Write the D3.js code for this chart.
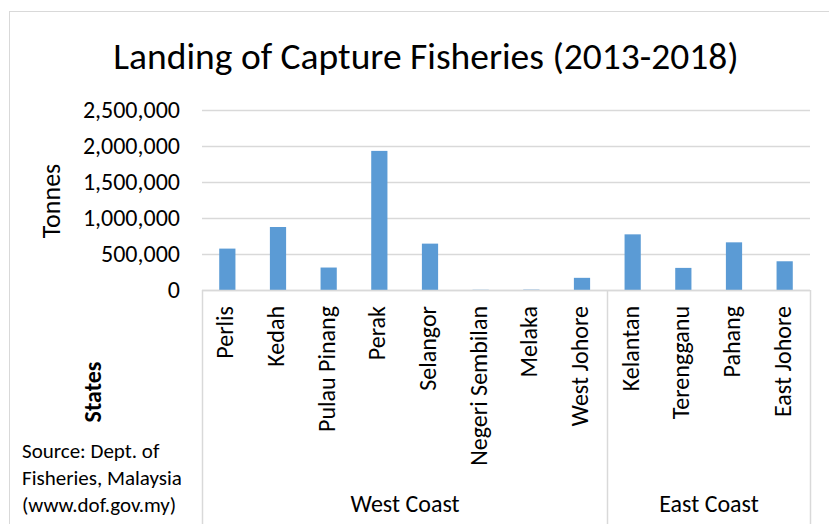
<!DOCTYPE html>
<html>
<head>
<meta charset="utf-8">
<script src="https://cdn.jsdelivr.net/npm/d3@7"></script>
<style>
  body { margin: 0; background: #fff; }
  svg text { font-family: Carlito, Calibri, Lato, sans-serif; fill: #000; }
</style>
</head>
<body>
<svg id="chart"></svg>
<script>
// data
const states = ['Perlis', 'Kedah', 'Pulau Pinang', 'Perak', 'Selangor', 'Negeri Sembilan',
  'Melaka', 'West Johore', 'Kelantan', 'Terengganu', 'Pahang', 'East Johore'];
const landings = [575000, 875000, 312000, 1932000, 644000, 3000, 5000, 169000,
  773000, 307000, 662000, 399000];
const regions = ['West Coast', 'East Coast'];
const regionSizes = [8, 4];
const yTicks = [0, 500000, 1000000, 1500000, 2000000, 2500000];

const width = 829, height = 524;
const plot = {left: 202, right: 810, top: 110, bottom: 290};

const svg = d3.select('#chart')
    .attr('width', width)
    .attr('height', height);

// outer chart frame
svg.append('rect')
    .attr('x', 9.5).attr('y', 11.5)
    .attr('width', 840).attr('height', 540)
    .attr('fill', 'none')
    .attr('stroke', '#d9d9d9');

svg.append('text')
    .attr('x', 426).attr('y', 69)
    .attr('text-anchor', 'middle')
    .style('font-size', '37.5px')
    .text('Landing of Capture Fisheries (2013-2018)');

const xScale = d3.scaleBand()
    .domain(states)
    .range([plot.left, plot.right])
    .paddingInner(0.68)
    .paddingOuter(0.34);

const yScale = d3.scaleLinear()
    .domain([0, 2500000])
    .range([plot.bottom, plot.top]);

// gridlines + y labels
const yAxis = d3.axisLeft(yScale)
    .tickValues(yTicks)
    .tickSize(-(plot.right - plot.left))
    .tickPadding(22)
    .tickFormat(d3.format(','));

const yAxisG = svg.append('g')
    .attr('transform', `translate(${plot.left},0)`)
    .call(yAxis);
yAxisG.select('.domain').remove();
yAxisG.selectAll('.tick line')
    .attr('stroke', '#d9d9d9')
    .attr('stroke-width', 1.5);
yAxisG.selectAll('.tick text')
    .style('font-size', '24px')
    .attr('fill', '#000');

svg.append('text')
    .attr('transform', `translate(60,${(plot.top + plot.bottom) / 2 + 1}) rotate(-90)`)
    .attr('text-anchor', 'middle')
    .style('font-size', '26px')
    .text('Tonnes');

// bars
svg.selectAll('.bar')
    .data(states)
  .join('rect')
    .attr('class', 'bar')
    .attr('x', d => xScale(d))
    .attr('width', xScale.bandwidth())
    .attr('y', (d, i) => yScale(landings[i]))
    .attr('height', (d, i) => plot.bottom - yScale(landings[i]))
    .style('fill', '#5b9bd5');

// category axis box
const axisColor = '#d9d9d9';
svg.append('line')
    .attr('x1', plot.left).attr('x2', plot.right)
    .attr('y1', plot.bottom + 0.5).attr('y2', plot.bottom + 0.5)
    .attr('stroke', axisColor).attr('stroke-width', 1.5);

let edges = [0];
regionSizes.forEach(n => edges.push(edges[edges.length - 1] + n));
const edgeX = edges.map(k => Math.round(plot.left + k * xScale.step()) + 0.5);

svg.selectAll('.group-line')
    .data(edgeX)
  .join('line')
    .attr('class', 'group-line')
    .attr('x1', d => d).attr('x2', d => d)
    .attr('y1', plot.bottom).attr('y2', height)
    .attr('stroke', axisColor).attr('stroke-width', 1.5);

svg.selectAll('.state-label')
    .data(states)
  .join('text')
    .attr('class', 'state-label')
    .attr('transform', d => `translate(${xScale(d) + xScale.bandwidth() / 2 + 6},306) rotate(-90)`)
    .attr('text-anchor', 'end')
    .style('font-size', '24px')
    .text(d => d);

svg.selectAll('.region-label')
    .data(regions)
  .join('text')
    .attr('class', 'region-label')
    .attr('x', (d, i) => (edgeX[i] + edgeX[i + 1]) / 2)
    .attr('y', 512)
    .attr('text-anchor', 'middle')
    .style('font-size', '24px')
    .text(d => d);

svg.append('text')
    .attr('transform', 'translate(101,392) rotate(-90)')
    .attr('text-anchor', 'middle')
    .style('font-size', '24px')
    .style('font-weight', 'bold')
    .text('States');

const sourceLines = ['Source: Dept. of', 'Fisheries, Malaysia', '(www.dof.gov.my)'];
svg.append('text')
    .attr('x', 22)
    .attr('y', 458)
    .style('font-size', '21px')
  .selectAll('tspan')
    .data(sourceLines)
  .join('tspan')
    .attr('x', 22)
    .attr('dy', (d, i) => i === 0 ? 0 : 27)
    .text(d => d);
</script>
</body>
</html>
